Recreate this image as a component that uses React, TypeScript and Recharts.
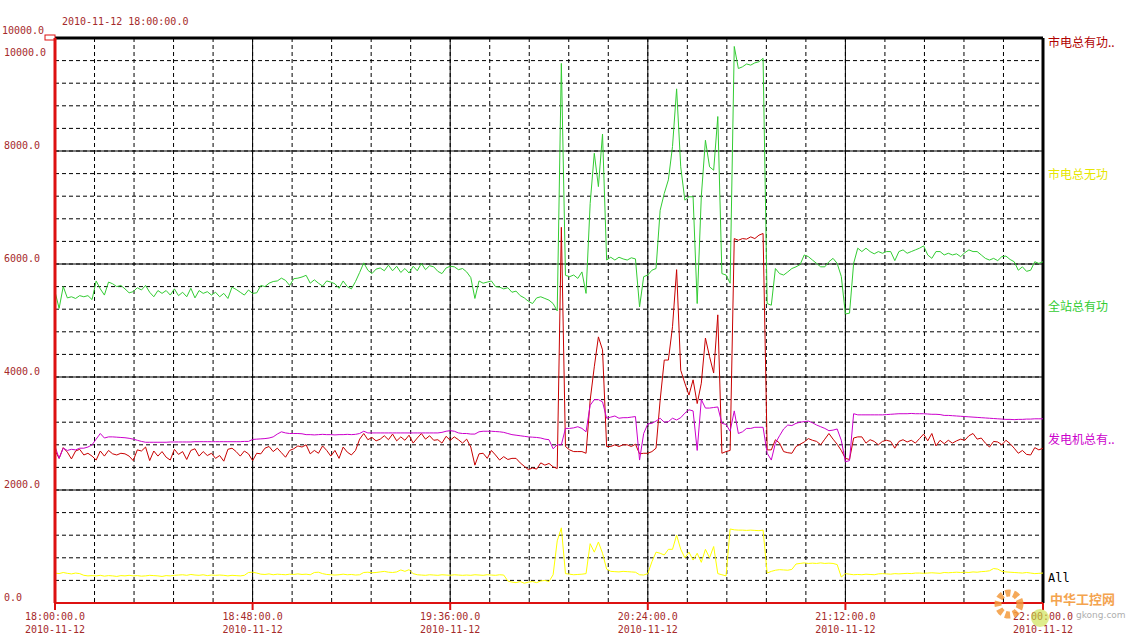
import { LineChart, Line, XAxis, YAxis, CartesianGrid, ReferenceLine } from "recharts"

// one sample per minute, 18:00 -> 22:00
const minutes = Array.from({ length: 241 }, (_, i) => i)

// 全站总有功
const totalActive = [
  5510, 5215, 5600, 5400, 5420, 5390, 5440, 5420, 5440, 5370,
  5700, 5560, 5450, 5680, 5650, 5600, 5620, 5560, 5490, 5510,
  5580, 5540, 5620, 5500, 5420, 5530, 5480, 5530, 5450, 5560,
  5440, 5500, 5420, 5570, 5400, 5530, 5480, 5510, 5450, 5500,
  5420, 5480, 5390, 5590, 5550, 5500, 5450, 5540, 5480, 5490,
  5620, 5600, 5660, 5690, 5700, 5750, 5710, 5620, 5740, 5750,
  5770, 5800, 5660, 5720, 5660, 5610, 5700, 5680, 5650, 5570,
  5700, 5600, 5560, 5690, 5850, 6020, 5890, 5830, 5910, 5930,
  5880, 5980, 5880, 5960, 5850, 5920, 5840, 5960, 5880, 6010,
  5900, 5970, 5950, 5870, 5830, 5930, 5960, 5950, 5900, 5920,
  5860, 5760, 5390, 5700, 5660, 5680, 5700, 5600, 5590, 5560,
  5580, 5500, 5520, 5440, 5400, 5340, 5300, 5400, 5420, 5390,
  5360, 5300, 5170, 9550, 5800, 5775, 5805, 5745, 5860, 5480,
  7070, 7960, 7370, 8300, 6070, 6120, 6070, 6120, 6090, 6070,
  6110, 6090, 5240, 5775, 5805, 5890, 5920, 6950, 7250, 7490,
  8080, 9100, 7720, 7130, 7190, 7190, 5300, 7200, 8190, 7720,
  7660, 8610, 5830, 5805, 5660, 9850, 9460, 9490, 9540, 9520,
  9560, 9580, 9640, 5300, 5270, 5920, 5830, 5805, 5860, 5920,
  5950, 5990, 6160, 6130, 6070, 6010, 5950, 5950, 6040, 6100,
  6010, 5780, 5115, 5130, 6010, 6280, 6220, 6280, 6220, 6180,
  6220, 6190, 6220, 6220, 6060, 6220, 6250, 6190, 6220, 6250,
  6280, 6320, 6160, 6100, 6220, 6220, 6160, 6190, 6160, 6180,
  6130, 6200, 6250, 6220, 6220, 6160, 6100, 6070, 6100, 6060,
  6130, 6140, 6080, 6040, 5890, 5950, 5870, 5890, 6040, 6010,
  6040,
]

// 市电总有功
const gridActive = [
  2700, 2560, 2750, 2670, 2550, 2690, 2720, 2620, 2650, 2600,
  2530, 2690, 2600, 2700, 2640, 2620, 2650, 2640, 2600, 2520,
  2710, 2690, 2760, 2520, 2690, 2600, 2680, 2580, 2530, 2720,
  2630, 2680, 2540, 2700, 2730, 2600, 2680, 2610, 2650, 2560,
  2610, 2510, 2720, 2740, 2680, 2600, 2690, 2640, 2520, 2650,
  2640, 2740, 2770, 2680, 2740, 2660, 2580, 2700, 2730, 2780,
  2760, 2800, 2640, 2700, 2650, 2780, 2700, 2600, 2700, 2560,
  2760, 2670, 2620, 2700, 2900, 3000, 2890, 2930, 2870, 2900,
  2960, 2890, 2990, 2870, 2940, 2880, 2970, 2830, 2920, 3000,
  2900, 2960, 2880, 2890, 2830, 2950, 2880, 2940, 2890, 2830,
  2900, 2760, 2440, 2640, 2650, 2560, 2700, 2620, 2530, 2590,
  2540, 2560, 2560, 2480, 2420, 2360, 2390, 2370, 2480, 2440,
  2470, 2410, 2380, 6650, 2770, 2710, 2680, 2680, 2680, 2650,
  3590, 4180, 4710, 4480, 2770, 2770, 2800, 2770, 2800, 2800,
  2770, 2810, 2640, 2650, 2650, 2680, 2740, 3590, 4300, 4300,
  4890, 5900, 4120, 3890, 3680, 3950, 3530, 3890, 4690, 4360,
  4070, 5100, 2650, 2680, 2700, 6450, 6420, 6450, 6440, 6480,
  6450, 6510, 6540, 2710, 2710, 2890, 2830, 2680, 2660, 2650,
  2770, 2810, 2850, 2910, 2880, 2860, 2800, 2900, 3000, 2900,
  2810, 2700, 2560, 2540, 2920, 2940, 2940, 2830, 2890, 2860,
  2800, 2860, 2880, 2860, 2740, 2860, 2890, 2850, 2880, 2830,
  2910, 2990, 2870, 3000, 2780, 2880, 2820, 2880, 2830, 2870,
  2900, 2880, 2960, 3000, 2900, 2920, 2830, 2760, 2860, 2850,
  2800, 2880, 2820, 2740, 2650, 2700, 2630, 2620, 2750, 2710,
  2740,
]

// 发电机总有功
const genActive = [
  2770, 2560, 2740, 2700, 2720, 2710, 2740, 2740, 2760, 2800,
  2900, 3000, 2920, 2940, 2940, 2935, 2930, 2925, 2915, 2900,
  2880, 2860, 2845, 2845, 2845, 2845, 2845, 2845, 2850, 2850,
  2850, 2850, 2850, 2850, 2855, 2855, 2855, 2855, 2855, 2855,
  2855, 2855, 2855, 2855, 2855, 2855, 2860, 2860, 2895, 2900,
  2905, 2910, 2920, 2940, 2990, 3030, 3010, 3000, 3000, 3000,
  2995, 2980, 2980, 2975, 2980, 2985, 2980, 2980, 2975, 2980,
  2980, 2985, 2980, 2985, 3000, 3040, 3010, 3010, 3010, 3010,
  3010, 3010, 3010, 3010, 3010, 3010, 3010, 3010, 3010, 3010,
  3010, 3010, 3010, 3010, 3020, 3040, 3050, 3040, 3010, 3000,
  3000, 2990, 2990, 3030, 3040, 3040, 3040, 3035, 3030, 3020,
  3000, 2980, 2970, 2960, 2950, 2940, 2935, 2930, 2920, 2900,
  2890, 2730, 2800, 2800, 3090, 3090, 3100, 3120, 3090, 3030,
  3500, 3600, 3600, 3560, 3270, 3290, 3310, 3270, 3280, 3280,
  3290, 3300, 2530, 3000, 3170, 3180, 3220, 3270, 3200, 3210,
  3270, 3240, 3280, 3360, 3420, 3400, 2700, 3600, 3450, 3450,
  3460, 3470, 3180, 3160, 3040, 3400, 3000, 3030, 3090, 3090,
  3110, 3110, 3110, 2650, 2530, 2830, 2960, 3080, 3150, 3140,
  3180, 3200, 3210, 3220, 3190, 3150, 3120, 3090, 3050, 3060,
  3080, 2880, 2500, 2520, 3350, 3330, 3330, 3330, 3330, 3330,
  3330, 3330, 3335, 3340, 3345, 3350, 3350, 3350, 3355, 3350,
  3350, 3350, 3345, 3340, 3340, 3335, 3320, 3320, 3315, 3310,
  3305, 3300, 3295, 3290, 3285, 3280, 3275, 3270, 3265, 3260,
  3255, 3250, 3250, 3245, 3250, 3250, 3255, 3255, 3260, 3260,
  3260,
]

// 市电总无功
const gridReactive = [
  530, 520, 540, 525, 515, 530, 520, 490, 480, 485,
  480, 490, 475, 485, 480, 470, 485, 480, 490, 480,
  485, 475, 480, 490, 485, 480, 470, 485, 480, 490,
  495, 500, 490, 505, 495, 490, 500, 485, 495, 490,
  495, 490, 480, 490, 485, 480, 490, 540, 545, 530,
  510, 505, 515, 500, 510, 505, 500, 510, 505, 515,
  505, 510, 500, 540, 545, 520, 505, 500, 495, 500,
  510, 500, 505, 495, 500, 540, 545, 535, 540, 550,
  560, 545, 540, 550, 585, 560, 590, 520, 500, 495,
  490, 500, 495, 490, 500, 495, 490, 500, 495, 490,
  495, 490, 500, 495, 490, 500, 495, 490, 500, 495,
  390, 370, 360, 380, 350, 370, 380, 360, 390, 400,
  380, 500, 1100, 1330, 520, 510, 500, 505, 510, 520,
  1050, 900, 1080, 880, 600, 560, 555, 550, 560, 555,
  550, 545, 500, 495, 520, 730, 900, 880, 850, 950,
  950, 1200, 950, 800, 900, 760, 880, 720, 950, 800,
  1000, 520, 500, 480, 1310, 1295, 1290, 1290, 1285, 1290,
  1285, 1280, 1290, 530, 560, 580, 590, 585, 580, 595,
  690, 700, 710, 700, 705, 700, 710, 700, 705, 700,
  680, 460, 520, 510, 500, 505, 500, 510, 505, 500,
  515, 520, 515, 510, 520, 515, 520, 525, 520, 530,
  530, 525, 530, 535, 530, 525, 540, 535, 540, 545,
  540, 545, 540, 550, 545, 555, 560, 570, 610, 600,
  560, 550, 545, 540, 535, 530, 540, 530, 520, 525,
  530,
]

const timeLabels = ["18:00:00.0", "18:48:00.0", "19:36:00.0", "20:24:00.0", "21:12:00.0", "22:00:00.0"]
const dateLabel = "2010-11-12"
const startLabel = "2010-11-12 18:00:00.0"
const yLabels = ["0.0", "2000.0", "4000.0", "6000.0", "8000.0", "10000.0"]
const seriesLabels = ["市电总有功..", "市电总无功", "全站总有功", "发电机总有..", "All"]

const xTicks = Array.from({ length: 26 }, (_, i) => (i * 48) / 5)
const yTicks = Array.from({ length: 26 }, (_, i) => i * 400)

const rows = minutes.map((t, i) => ({
  t,
  total: totalActive[i],
  grid: gridActive[i],
  gen: genActive[i],
  reactive: gridReactive[i],
}))

const W = 1130
const H = 644
const PLOT_BOTTOM = 603
const AXIS_RED = "#dd1111"
const LABEL_RED = "#a52a2a"
const MONO = "'DejaVu Sans Mono', monospace"
const CJK = "'Noto Sans CJK SC', sans-serif"

const XTick = (props: any) => {
  const { x, payload } = props
  const idx = Math.round(payload.value / 48)
  if (Math.abs(payload.value - idx * 48) > 0.01) return <g />
  return (
    <g>
      <line x1={x} y1={PLOT_BOTTOM} x2={x} y2={PLOT_BOTTOM + 7} stroke={AXIS_RED} strokeWidth={2} />
      <text x={x} y={PLOT_BOTTOM + 17} textAnchor="middle" fill={LABEL_RED} fontSize={10} fontFamily={MONO}>
        {timeLabels[idx]}
      </text>
      <text x={x} y={PLOT_BOTTOM + 30} textAnchor="middle" fill={LABEL_RED} fontSize={10} fontFamily={MONO}>
        {dateLabel}
      </text>
    </g>
  )
}

const YTick = (props: any) => {
  const { y, payload } = props
  const idx = Math.round(payload.value / 2000)
  if (payload.value % 2000 !== 0) return <g />
  const ty = idx === 5 ? y + 18 : y - 2
  return (
    <text x={4} y={ty} fill={LABEL_RED} fontSize={10} fontFamily={MONO}>
      {yLabels[idx]}
    </text>
  )
}

const legendColors = ["#b00000", "#e6e600", "#33cc33", "#cc00cc", "#000000"]
const legendY = [47, 179, 311, 444, 582]

export default function App() {
  return (
    <div style={{ position: "absolute", left: 0, top: 0, width: W, height: H, background: "#fff" }}>
      <LineChart width={W} height={H} data={rows} margin={{ top: 38, right: 87, bottom: 0, left: 0 }}>
        <CartesianGrid stroke="#000" strokeDasharray="4 3" />
        <XAxis
          dataKey="t"
          type="number"
          domain={[0, 240]}
          ticks={xTicks}
          interval={0}
          height={41}
          tick={XTick}
          tickLine={false}
          axisLine={{ stroke: AXIS_RED, strokeWidth: 2 }}
        />
        <YAxis
          type="number"
          domain={[0, 10000]}
          ticks={yTicks}
          interval={0}
          width={55}
          tick={YTick}
          tickLine={false}
          axisLine={{ stroke: AXIS_RED, strokeWidth: 3 }}
        />
        {[2000, 4000, 6000, 8000].map((v) => (
          <ReferenceLine key={"y" + v} y={v} stroke="#000" strokeWidth={1} />
        ))}
        {[48, 96, 144, 192].map((v) => (
          <ReferenceLine key={"x" + v} x={v} stroke="#000" strokeWidth={1} />
        ))}
        <ReferenceLine y={10000} stroke="#000" strokeWidth={3} />
        <ReferenceLine x={240} stroke="#000" strokeWidth={3} />
        <Line type="linear" dataKey="grid" stroke="#c80000" strokeWidth={1} dot={false} isAnimationActive={false} />
        <Line type="linear" dataKey="reactive" stroke="#ffff00" strokeWidth={1} dot={false} isAnimationActive={false} />
        <Line type="linear" dataKey="total" stroke="#33cc33" strokeWidth={1} dot={false} isAnimationActive={false} />
        <Line type="linear" dataKey="gen" stroke="#cc00cc" strokeWidth={1} dot={false} isAnimationActive={false} />
      </LineChart>
      <svg width={W} height={H} style={{ position: "absolute", left: 0, top: 0, pointerEvents: "none" }}>
        <text x={62} y={25} fill={LABEL_RED} fontSize={10} fontFamily={MONO}>
          {startLabel}
        </text>
        <text x={2} y={34} fill={LABEL_RED} fontSize={10} fontFamily={MONO}>
          {yLabels[5]}
        </text>
        <rect x={45} y={35} width={10} height={5} fill="none" stroke={AXIS_RED} strokeWidth={1} />
        {seriesLabels.map((s, i) => (
          <text key={s} x={1048} y={legendY[i]} fill={legendColors[i]} fontSize={12} fontFamily={i === 4 ? MONO : CJK}>
            {s}
          </text>
        ))}
        <circle cx={1009} cy={604} r={11} fill="none" stroke="#f39a3c" strokeWidth={7} strokeDasharray="5 3" opacity={0.85} />
        <circle cx={1040} cy={618} r={9} fill="#c8e040" opacity={0.6} />
        <text x={1050} y={604} fill="#f39a3c" fontSize={13} fontWeight="bold" fontFamily={CJK} opacity={0.9}>
          中华工控网
        </text>
        <text x={1076} y={618} fill="#9a9a9a" fontSize={9} fontFamily="'DejaVu Sans', sans-serif" opacity={0.8}>
          gkong.com
        </text>
      </svg>
    </div>
  )
}
